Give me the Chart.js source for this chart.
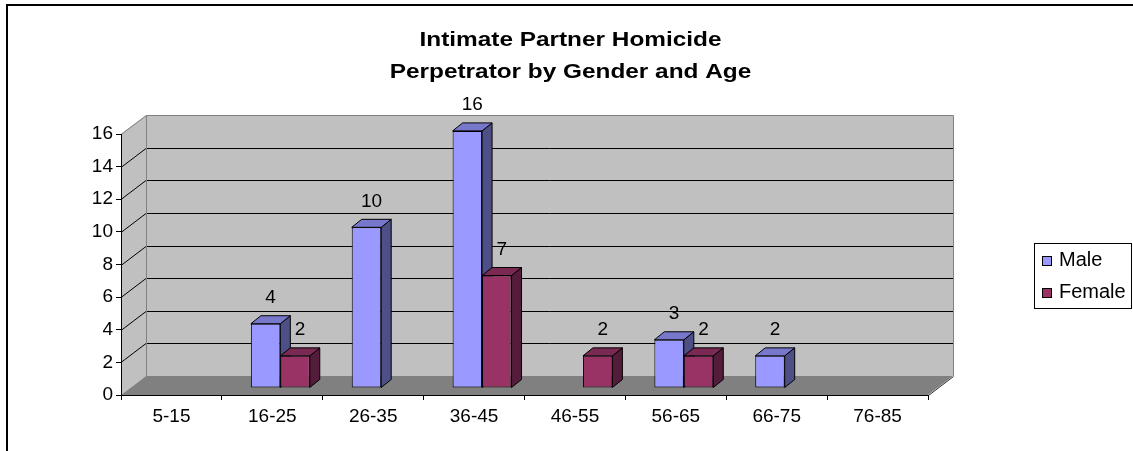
<!DOCTYPE html>
<html><head><meta charset="utf-8">
<script src="https://cdn.jsdelivr.net/npm/chart.js@4.4.0/dist/chart.umd.min.js"></script>
<style>html,body{margin:0;padding:0;background:#fff;} canvas{display:block;}</style>
</head><body>
<canvas id="c" width="1133" height="451"></canvas>
<script>
// ---- data ----
const categories = ['5-15','16-25','26-35','36-45','46-55','56-65','66-75','76-85'];
const maleValues = [0, 4, 10, 16, 0, 3, 2, 0];
const femaleValues = [0, 2, 0, 7, 2, 2, 0, 0];
const yTicks = [0, 2, 4, 6, 8, 10, 12, 14, 16];
const seriesNames = ['Male', 'Female'];
const titleLines = ['Intimate Partner Homicide', 'Perpetrator by Gender and Age'];

// ---- styles ----
const FONT = '"Liberation Sans", Arial, Helvetica, sans-serif';
const faceColors = [
  {front: '#9999FF', top: '#7777CC', side: '#4F4F88'},
  {front: '#993366', top: '#7A2952', side: '#521C3A'}
];
const WALL = {dx: 25, dy: -19};
const BAR_SHIFT = {dx: 8, dy: -7, sy: 0.985};
const BAR_DEPTH = {dx: 10, dy: -8};

function poly(ctx, pts) {
  ctx.beginPath();
  ctx.moveTo(pts[0][0], pts[0][1]);
  for (let i = 1; i < pts.length; i++) ctx.lineTo(pts[i][0], pts[i][1]);
  ctx.closePath();
}
function barPt(chart, u, v) {
  const base = chart.scales.y.getPixelForValue(0);
  return [u + BAR_SHIFT.dx, base + (v - base) * BAR_SHIFT.sy + BAR_SHIFT.dy];
}

const threeD = {
  id: 'threeD',
  beforeDraw(chart) {
    const ctx = chart.ctx, ca = chart.chartArea, ys = chart.scales.y;
    const L = ca.left, R = ca.right;
    const B = Math.round(ys.getPixelForValue(yTicks[0]));
    const T = Math.round(ys.getPixelForValue(yTicks[yTicks.length - 1]));
    const dx = WALL.dx, dy = WALL.dy;
    ctx.save();
    ctx.fillStyle = '#fff';
    ctx.fillRect(0, 0, chart.width, chart.height);
    ctx.fillStyle = '#C0C0C0';
    poly(ctx, [[L, T], [L + dx, T + dy], [L + dx, B + dy], [L, B]]);
    ctx.fill();
    ctx.fillRect(L + dx, T + dy, R - L, B - T);
    ctx.fillStyle = '#808080';
    poly(ctx, [[L, B], [R, B], [R + dx, B + dy], [L + dx, B + dy]]);
    ctx.fill();
    ctx.lineWidth = 1;
    ctx.strokeStyle = '#000';
    for (let k = 1; k < yTicks.length - 1; k++) {
      const y = Math.round(ys.getPixelForValue(yTicks[k])) + 0.5;
      ctx.beginPath();
      ctx.moveTo(L, y);
      ctx.lineTo(L + dx, y + dy);
      ctx.lineTo(R + dx + 0.5, y + dy);
      ctx.stroke();
    }
    ctx.strokeStyle = '#808080';
    ctx.beginPath();
    ctx.moveTo(L, T + 0.5);
    ctx.lineTo(L + dx + 0.5, T + dy + 0.5);
    ctx.lineTo(R + dx + 0.5, T + dy + 0.5);
    ctx.lineTo(R + dx + 0.5, B + dy);
    ctx.moveTo(L + dx + 0.5, T + dy + 0.5);
    ctx.lineTo(L + dx + 0.5, B + dy);
    ctx.stroke();
    ctx.strokeStyle = '#303030';
    ctx.beginPath();
    ctx.moveTo(R + 0.5, B + 0.5);
    ctx.lineTo(R + dx + 0.5, B + dy + 0.5);
    ctx.stroke();
    ctx.restore();
  },
  beforeDatasetsDraw(chart) {
    const ctx = chart.ctx;
    const metas = chart.data.datasets.map((d, i) => chart.getDatasetMeta(i));
    ctx.save();
    ctx.lineWidth = 1;
    ctx.strokeStyle = '#000';
    ctx.lineJoin = 'miter';
    for (let i = 0; i < categories.length; i++) {
      for (let d = 0; d < metas.length; d++) {
        const val = chart.data.datasets[d].data[i];
        if (val == null) continue;
        const el = metas[d].data[i];
        const p = el.getProps(['x', 'y', 'base', 'width'], true);
        const [l, t] = barPt(chart, p.x - p.width / 2, p.y);
        const [r] = barPt(chart, p.x + p.width / 2, p.y);
        const [, b] = barPt(chart, p.x, p.base);
        const ddx = BAR_DEPTH.dx, ddy = BAR_DEPTH.dy;
        ctx.fillStyle = faceColors[d].side;
        poly(ctx, [[r, t], [r + ddx, t + ddy], [r + ddx, b + ddy], [r, b]]);
        ctx.fill(); ctx.stroke();
        ctx.fillStyle = faceColors[d].top;
        poly(ctx, [[l, t], [r, t], [r + ddx, t + ddy], [l + ddx, t + ddy]]);
        ctx.fill(); ctx.stroke();
      }
    }
    ctx.restore();
    const base = chart.scales.y.getPixelForValue(0);
    ctx.save();
    ctx.translate(BAR_SHIFT.dx, base * (1 - BAR_SHIFT.sy) + BAR_SHIFT.dy);
    ctx.scale(1, BAR_SHIFT.sy);
  },
  afterDatasetsDraw(chart) {
    const ctx = chart.ctx;
    ctx.restore();
    ctx.save();
    ctx.font = '19px ' + FONT;
    ctx.fillStyle = '#000';
    ctx.textAlign = 'center';
    ctx.textBaseline = 'middle';
    chart.data.datasets.forEach((ds, d) => {
      const meta = chart.getDatasetMeta(d);
      ds.data.forEach((v, i) => {
        if (v == null) return;
        const el = meta.data[i];
        const [X, Y] = barPt(chart, el.x, el.y);
        ctx.fillText(String(v), X + 5, Y - 26);
      });
    });
    ctx.restore();
  },
  afterDraw(chart) {
    const ctx = chart.ctx;
    ctx.save();
    ctx.strokeStyle = '#000';
    ctx.lineWidth = 2;
    ctx.beginPath();
    ctx.moveTo(7, chart.height + 2);
    ctx.lineTo(7, 5);
    ctx.lineTo(chart.width + 2, 5);
    ctx.stroke();
    ctx.fillStyle = '#000';
    ctx.font = 'bold 21px ' + FONT;
    ctx.textAlign = 'center';
    ctx.textBaseline = 'alphabetic';
    const baselines = [46, 78];
    titleLines.forEach((line, k) => {
      ctx.save();
      ctx.translate(570.5, baselines[k]);
      ctx.scale(1.16, 1);
      ctx.fillText(line, 0, 0);
      ctx.restore();
    });
    ctx.lineWidth = 1;
    ctx.strokeStyle = '#000';
    ctx.strokeRect(1034.5, 243.5, 97, 65);
    ctx.font = '20px ' + FONT;
    ctx.textAlign = 'left';
    const rows = [266, 298];
    chart.data.datasets.forEach((ds, d) => {
      const yb = rows[d];
      ctx.fillStyle = ds.backgroundColor;
      ctx.fillRect(1042.5, yb - 9.5, 9, 9);
      ctx.strokeRect(1042.5, yb - 9.5, 9, 9);
      ctx.fillStyle = '#000';
      ctx.fillText(ds.label, 1059, yb);
    });
    ctx.restore();
  }
};

const toBars = arr => arr.map(v => (v === 0 ? null : v));

new Chart(document.getElementById('c').getContext('2d'), {
  type: 'bar',
  data: {
    labels: categories,
    datasets: [
      {label: seriesNames[0], data: toBars(maleValues), backgroundColor: faceColors[0].front,
       borderColor: '#000', borderWidth: 1, borderSkipped: false,
       categoryPercentage: 0.584, barPercentage: 1.0},
      {label: seriesNames[1], data: toBars(femaleValues), backgroundColor: faceColors[1].front,
       borderColor: '#000', borderWidth: 1, borderSkipped: false,
       categoryPercentage: 0.584, barPercentage: 1.0}
    ]
  },
  options: {
    responsive: false,
    animation: false,
    devicePixelRatio: 1,
    layout: {padding: {left: 0, top: 134, right: 205, bottom: 0}},
    plugins: {legend: {display: false}, title: {display: false}, tooltip: {enabled: false}},
    scales: {
      x: {
        grid: {drawOnChartArea: false, drawTicks: true, tickLength: 5, color: '#000', offset: true},
        border: {color: '#000', width: 1},
        ticks: {color: '#000', font: {family: FONT, size: 19}, padding: 5, maxRotation: 0, autoSkip: false},
        afterFit: s => { s.height = 56; }
      },
      y: {
        min: yTicks[0], max: yTicks[yTicks.length - 1],
        ticks: {stepSize: yTicks[1] - yTicks[0], color: '#000', font: {family: FONT, size: 19}, padding: 3},
        grid: {drawOnChartArea: false, drawTicks: true, tickLength: 5, color: '#000'},
        border: {color: '#000', width: 1},
        afterFit: s => { s.width = 121; }
      }
    }
  },
  plugins: [threeD]
});
</script>
</body></html>
